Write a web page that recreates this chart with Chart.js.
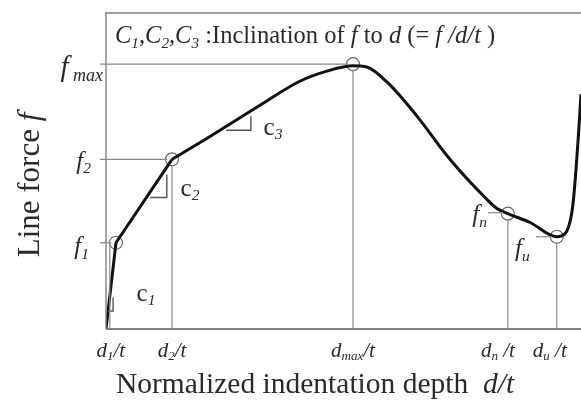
<!DOCTYPE html>
<html>
<head>
<meta charset="utf-8">
<script src="https://cdn.jsdelivr.net/npm/chart.js@4.4.0/dist/chart.umd.min.js"></script>
<style>
  html, body { margin: 0; padding: 0; background: #fff; }
  #wrap { width: 581px; height: 400px; }
</style>
</head>
<body>
<div id="wrap"><canvas id="forceChart"></canvas></div>
<script>
// line force vs normalized indentation depth (arbitrary units 0..100)
const curveX = [0, 2.1, 13.9];
const curveY = [0, 27.3, 53.7];
const smoothX = [13.9, 19.8, 26.1, 32.4, 40.8, 46.5, 52.0, 54.9, 59.2, 65.5, 72.4, 80.2, 82.3, 84.6, 89.3, 94.9, 96.8, 98.3, 99.4, 100];
const smoothY = [53.7, 59.0, 64.9, 70.8, 78.4, 81.6, 83.3, 82.9, 78.1, 67.3, 53.7, 41.0, 38.1, 36.5, 33.7, 29.2, 30.5, 39.4, 60.0, 74.3];

// characteristic points: f1, f2, fmax, fn, fu
const keyX = [2.1, 13.9, 52.0, 84.6, 94.9];
const keyY = [27.3, 53.7, 83.8, 36.5, 29.2];
const dropX = [0.8, 13.9, 52.0, 84.6, 94.9]; // where the d/t guide meets the axis
const tickLabelsX = [['d', '1', '/t'], ['d', '2', '/t'], ['d', 'max', '/t'], ['d', 'n', ' /t'], ['d', 'u', ' /t']];

// slope triangles under the curve
const triC1 = [[0.4, 5.7], [1.5, 5.7], [1.5, 10]];
const triC2 = [[9.3, 41.6], [12.8, 41.6], [12.8, 48.9]];
const triC3 = [[25.3, 62.9], [30.5, 62.9], [30.5, 67.3]];

const GUIDE = '#8a8a8a';
const INK = '#2a2a2a';
const SERIF = '"Liberation Serif", "DejaVu Serif", serif';

function pts(xs, ys) { return xs.map((x, i) => ({ x: x, y: ys[i] })); }
function tri(a) { return a.map(p => ({ x: p[0], y: p[1] })); }

const guides = [];
// vertical guides down to the axis
keyX.forEach((x, i) => {
  guides.push([{ x: dropX[i], y: 0 }, { x: dropX[i], y: keyY[i] - (i === 0 ? 0 : 1.8) }]);
});
// horizontal guides from the y axis
[0, 1, 2].forEach(k => {
  guides.push([{ x: -1.3, y: keyY[k] }, { x: keyX[k] - 1, y: keyY[k] }]);
});
guides.push([{ x: 80.4, y: 36.8 }, { x: 83.6, y: 36.8 }]); // fn
guides.push([{ x: 90.5, y: 29.2 }, { x: 93.8, y: 29.2 }]); // fu

const datasets = [];
guides.forEach(g => datasets.push({
  data: g, showLine: true, borderColor: GUIDE, borderWidth: 1.2,
  pointRadius: 0, clip: false
}));
[triC1, triC2, triC3].forEach(t => datasets.push({
  data: tri(t), showLine: true, borderColor: '#555', borderWidth: 1.4, pointRadius: 0
}));
datasets.push({
  data: pts(curveX, curveY), showLine: true, borderColor: '#111', borderWidth: 3,
  pointRadius: 0, tension: 0
});
datasets.push({
  data: pts(smoothX, smoothY), showLine: true, borderColor: '#111', borderWidth: 3,
  pointRadius: 0, cubicInterpolationMode: 'monotone'
});
datasets.push({
  data: pts(keyX, keyY), showLine: false, pointRadius: 6.5,
  pointBackgroundColor: 'rgba(0,0,0,0)', pointBorderColor: '#666', pointBorderWidth: 1.2
});

// text runs: [text, italic, subscript]
function fontFor(r, size) {
  return (r[1] ? 'italic ' : '') + (r[2] ? size * 0.62 : size) + 'px ' + SERIF;
}
function drawRuns(ctx, runs, x, y, size, align) {
  let w = 0;
  runs.forEach(r => { ctx.font = fontFor(r, size); w += ctx.measureText(r[0]).width; });
  let cx = x;
  if (align === 'center') cx = x - w / 2;
  if (align === 'right') cx = x - w;
  ctx.textAlign = 'left';
  runs.forEach(r => {
    ctx.font = fontFor(r, size);
    ctx.fillText(r[0], cx, r[2] ? y + size * 0.28 : y);
    cx += ctx.measureText(r[0]).width;
  });
}

const annotations = {
  id: 'annotations',
  afterDraw(chart) {
    const ctx = chart.ctx;
    const a = chart.chartArea;
    const xs = chart.scales.x, ys = chart.scales.y;
    ctx.save();
    // frame: left axis, top rule, bottom axis
    ctx.strokeStyle = '#808080';
    ctx.lineWidth = 1.4;
    ctx.beginPath();
    ctx.moveTo(a.left, a.bottom); ctx.lineTo(a.left, a.top);
    ctx.moveTo(a.left - 1, a.top); ctx.lineTo(a.right, a.top);
    ctx.stroke();
    ctx.lineWidth = 2;
    ctx.beginPath();
    ctx.moveTo(a.left, a.bottom); ctx.lineTo(a.right, a.bottom);
    ctx.stroke();

    ctx.fillStyle = INK;
    ctx.textBaseline = 'middle';
    // d/t tick labels
    const dx = [1, 0, 0, -10, -7];
    tickLabelsX.forEach((t, i) => {
      drawRuns(ctx, [[t[0], true, false], [t[1], true, true], [t[2], true, false]],
        xs.getPixelForValue(dropX[i]) + dx[i], a.bottom + 22, 21, 'center');
    });
    // f tick labels
    drawRuns(ctx, [['f', true, false], ['1', true, true]], 89, ys.getPixelForValue(keyY[0]) + 5, 25, 'right');
    drawRuns(ctx, [['f', true, false], ['2', true, true]], 91, ys.getPixelForValue(keyY[1]) + 3, 25, 'right');
    drawRuns(ctx, [['f', true, false], [' max', true, true]], 103, ys.getPixelForValue(keyY[2]) + 4, 29, 'right');
    // fn and fu next to their points
    drawRuns(ctx, [['f', true, false], ['n', true, true]], 487, ys.getPixelForValue(keyY[3]) + 2, 25, 'right');
    drawRuns(ctx, [['f', true, false], ['u', true, true]], 515, ys.getPixelForValue(keyY[4]) + 13, 25, 'left');

    // slope labels
    drawRuns(ctx, [['c', false, false], ['1', true, true]], 146, 294, 25, 'center');
    drawRuns(ctx, [['c', false, false], ['2', true, true]], 190, 189, 25, 'center');
    drawRuns(ctx, [['c', false, false], ['3', true, true]], 273, 128, 25, 'center');

    // heading inside the frame
    drawRuns(ctx, [
      ['C', true, false], ['1', true, true], [',C', true, false], ['2', true, true],
      [',C', true, false], ['3', true, true], [' :Inclination of ', false, false],
      ['f', true, false], [' to ', false, false], ['d', true, false],
      [' (= ', false, false], ['f /d/t', true, false], [' )', false, false]
    ], 115, 37, 24.5, 'left');

    // axis titles
    drawRuns(ctx, [['Normalized indentation depth  ', false, false], ['d/t', true, false]], 315, 385, 29.5, 'center');
    ctx.translate(31, 185);
    ctx.rotate(-Math.PI / 2);
    drawRuns(ctx, [['Line force ', false, false], ['f', true, false]], 0, 0, 31, 'center');
    ctx.restore();
  }
};

new Chart(document.getElementById('forceChart'), {
  type: 'scatter',
  data: { datasets: datasets },
  options: {
    responsive: true,
    maintainAspectRatio: false,
    animation: false,
    layout: { autoPadding: false, padding: { left: 106, top: 13, right: 0, bottom: 71 } },
    plugins: { legend: { display: false }, tooltip: { enabled: false } },
    scales: {
      x: { type: 'linear', min: 0, max: 100, display: false },
      y: { type: 'linear', min: 0, max: 100, display: false }
    }
  },
  plugins: [annotations]
});
</script>
</body>
</html>
